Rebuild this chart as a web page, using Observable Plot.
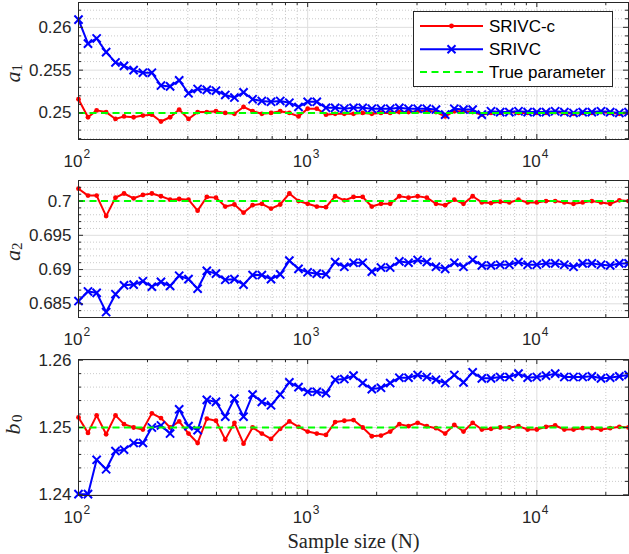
<!DOCTYPE html>
<html><head><meta charset="utf-8">
<script src="https://cdn.jsdelivr.net/npm/d3@7"></script>
<script src="https://cdn.jsdelivr.net/npm/@observablehq/plot@0.6"></script>
<style>
body{margin:0;background:#fff;}
#wrap{position:relative;width:629px;height:554px;overflow:hidden;background:#fff;}
#wrap > svg{position:absolute;left:0;}
</style></head><body><div id="wrap"></div>
<script>
// Sample sizes (N)
const N = [100,110,120,132,145,158,174,191,209,229,251,275,302,331,363,398,437,479,525,575,631,692,759,832,912,
  1000,1096,1202,1318,1445,1585,1738,1905,2089,2291,2512,2754,3020,3311,3631,3981,4365,4786,5248,5754,6310,6918,7586,8318,9120,
  10000,10965,12023,13183,14454,15849,17378,19055,20893,22909,25119];

// a1
const a1_srivcc = [0.2516,0.2495,0.2503,0.2501,0.2493,0.2496,0.2495,0.2497,0.2498,0.2490,0.2495,0.2504,0.2493,0.2501,0.2501,0.2502,0.2500,0.2499,0.2507,0.2502,0.2499,0.2500,0.2502,0.2500,0.2496,
  0.2505,0.2505,0.2498,0.2499,0.2499,0.2499,0.2500,0.2499,0.2500,0.2500,0.2501,0.2501,0.2502,0.2503,0.2501,0.2496,0.2502,0.2502,0.2501,0.2498,0.2500,0.2500,0.2501,0.2500,0.2500,
  0.2500,0.2500,0.2501,0.2500,0.2499,0.2500,0.2500,0.2501,0.2500,0.2499,0.2500];
const a1_srivc = [0.2609,0.2581,0.2587,0.2571,0.2559,0.2555,0.2550,0.2547,0.2547,0.2532,0.2531,0.2538,0.2523,0.2528,0.2527,0.2526,0.2521,0.2518,0.2524,0.2516,0.2514,0.2513,0.2514,0.2512,0.2507,
  0.2513,0.2513,0.2506,0.2506,0.2505,0.2506,0.2506,0.2505,0.2505,0.2505,0.2506,0.2505,0.2505,0.2505,0.2504,0.2498,0.2505,0.2504,0.2504,0.2498,0.2502,0.2501,0.2501,0.2502,0.2501,
  0.2501,0.2501,0.2502,0.2501,0.2500,0.2501,0.2501,0.2502,0.2501,0.2500,0.2501];

// a2
const a2_srivcc = [0.7018,0.7008,0.7008,0.6978,0.7005,0.7011,0.7004,0.7009,0.7011,0.7007,0.7002,0.7003,0.7002,0.6986,0.7006,0.7005,0.6992,0.6995,0.6983,0.6994,0.6996,0.6989,0.6995,0.7011,0.7000,
  0.6996,0.6992,0.6991,0.7007,0.7001,0.7006,0.7006,0.6992,0.6996,0.6996,0.7007,0.7005,0.7007,0.7005,0.6996,0.6994,0.7002,0.6996,0.7007,0.6998,0.6997,0.6999,0.6998,0.7002,0.6998,
  0.6998,0.7000,0.7000,0.6998,0.6996,0.6998,0.7000,0.6998,0.6996,0.7001,0.7000];
const a2_srivc = [0.6854,0.6868,0.6866,0.6838,0.6864,0.6877,0.6878,0.6883,0.6875,0.6882,0.6876,0.6891,0.6886,0.6872,0.6898,0.6894,0.6885,0.6886,0.6878,0.6892,0.6892,0.6886,0.6893,0.6913,0.6901,
  0.6896,0.6894,0.6893,0.6911,0.6904,0.6910,0.6910,0.6897,0.6903,0.6903,0.6912,0.6910,0.6914,0.6911,0.6904,0.6901,0.6910,0.6904,0.6914,0.6906,0.6906,0.6907,0.6907,0.6911,0.6907,
  0.6907,0.6909,0.6909,0.6907,0.6904,0.6909,0.6909,0.6907,0.6906,0.6909,0.6909];

// b0
const b0_srivcc = [1.2515,1.2492,1.2518,1.2490,1.2518,1.2505,1.2500,1.2497,1.2521,1.2514,1.2500,1.2509,1.2491,1.2477,1.2513,1.2510,1.2482,1.2507,1.2476,1.2500,1.2491,1.2483,1.2498,1.2509,1.2501,
  1.2494,1.2491,1.2489,1.2508,1.2510,1.2511,1.2500,1.2487,1.2488,1.2494,1.2505,1.2502,1.2507,1.2502,1.2499,1.2491,1.2504,1.2494,1.2507,1.2497,1.2498,1.2500,1.2500,1.2502,1.2497,
  1.2497,1.2501,1.2503,1.2497,1.2497,1.2499,1.2499,1.2497,1.2499,1.2501,1.2500];
const b0_srivc = [1.2401,1.2401,1.2452,1.2438,1.2465,1.2467,1.2477,1.2477,1.2500,1.2503,1.2491,1.2527,1.2502,1.2496,1.2541,1.2538,1.2516,1.2543,1.2516,1.2549,1.2538,1.2533,1.2549,1.2567,1.2560,
  1.2553,1.2553,1.2551,1.2571,1.2572,1.2577,1.2566,1.2557,1.2559,1.2566,1.2574,1.2574,1.2578,1.2575,1.2571,1.2566,1.2578,1.2567,1.2582,1.2573,1.2573,1.2575,1.2575,1.2580,1.2574,
  1.2575,1.2577,1.2580,1.2575,1.2575,1.2575,1.2576,1.2573,1.2574,1.2576,1.2578];

const trueA1 = 0.25, trueA2 = 0.7, trueB0 = 1.25;

// axis ticks
const xMajor = [100, 1000, 10000];
const xMajorExp = ["2", "3", "4"];
const xMinor = [200,300,400,500,600,700,800,900,2000,3000,4000,5000,6000,7000,8000,9000,20000];
const a1Major = [0.25, 0.255, 0.26];
const a1Minor = [0.247,0.248,0.249,0.251,0.252,0.253,0.254,0.256,0.257,0.258,0.259,0.261,0.262];
const a2Major = [0.685, 0.69, 0.695, 0.7];
const a2Minor = [0.683,0.684,0.686,0.687,0.688,0.689,0.691,0.692,0.693,0.694,0.696,0.697,0.698,0.699,0.701,0.702];
const b0Major = [1.24, 1.25, 1.26];
const b0Minor = [1.242,1.244,1.246,1.248,1.252,1.254,1.256,1.258];

const legendLabels = ["SRIVC-c", "SRIVC", "True parameter"];

const RED = "#ff0000", BLUE = "#0000ff", GREEN = "#00ff00", AX = "#262626";
const MAJ = "#dedede", MIN = "#bcbcbc";
const SANS = "'Liberation Sans', Arial, Helvetica, sans-serif";
const SERIF = "'Liberation Serif', 'Times New Roman', serif";

const wrap = document.getElementById("wrap");
const W = 629, ML = 78, MR = 1, MT = 2;

function panel({top, height, mb, yDomain, yMajor, yMinor, truth, red, blue, sym, sub, symOff, subOff, xlabel}) {
  const data = N.map((n, i) => ({N: n, c: red[i], s: blue[i]}));
  const fh = height - MT - mb, fw = W - ML - MR;
  const marks = [
    Plot.ruleX(xMinor, {stroke: MIN, strokeWidth: 0.8, strokeDasharray: "1,2"}),
    Plot.ruleY(yMinor, {stroke: MIN, strokeWidth: 0.8, strokeDasharray: "1,2"}),
    Plot.ruleX(xMajor, {stroke: MAJ, strokeWidth: 1}),
    Plot.ruleY(yMajor, {stroke: MAJ, strokeWidth: 1}),
    Plot.line(data, {x: "N", y: "c", stroke: RED, strokeWidth: 2}),
    Plot.dot(data, {x: "N", y: "c", r: 2.4, fill: RED, stroke: "none"}),
    Plot.line(data, {x: "N", y: "s", stroke: BLUE, strokeWidth: 2}),
    Plot.dot(data, {x: "N", y: "s", symbol: "times", r: 3.8, fill: "none", stroke: BLUE, strokeWidth: 2}),
    Plot.ruleY([truth], {stroke: GREEN, strokeWidth: 2, strokeDasharray: "7,4.5"}),
    Plot.frame({stroke: AX, strokeWidth: 1}),
    // inward ticks on all four sides
    Plot.ruleX(xMajor, {stroke: AX, insetTop: fh - 5}),
    Plot.ruleX(xMajor, {stroke: AX, insetBottom: fh - 5}),
    Plot.ruleX(xMinor, {stroke: AX, insetTop: fh - 3}),
    Plot.ruleX(xMinor, {stroke: AX, insetBottom: fh - 3}),
    Plot.ruleY(yMajor, {stroke: AX, insetRight: fw - 5}),
    Plot.ruleY(yMajor, {stroke: AX, insetLeft: fw - 5}),
    Plot.ruleY(yMinor, {stroke: AX, insetRight: fw - 3}),
    Plot.ruleY(yMinor, {stroke: AX, insetLeft: fw - 3}),
    // y tick labels
    Plot.text(yMajor, {y: d => d, frameAnchor: "left", text: d => String(d), textAnchor: "end", dx: -7, fontSize: 17, fill: AX}),
    // x tick labels 10^k
    Plot.text(xMajor, {x: d => d, frameAnchor: "bottom", text: () => "10", textAnchor: "end", lineAnchor: "top", dx: 4, dy: 15.5, fontSize: 17, fill: AX}),
    Plot.text(xMajor, {x: d => d, frameAnchor: "bottom", text: (d, i) => xMajorExp[i], textAnchor: "start", lineAnchor: "top", dx: 5, dy: 9.5, fontSize: 12, fill: AX}),
    // y label (italic symbol + subscript)
    Plot.text([sym], {frameAnchor: "left", text: d => d, rotate: -90, textAnchor: "start", dx: -66, dy: symOff, fontSize: 22, fontStyle: "italic", fontFamily: SERIF, fill: AX}),
    Plot.text([sub], {frameAnchor: "left", text: d => d, rotate: -90, textAnchor: "start", dx: -61, dy: subOff, fontSize: 15, fontFamily: SERIF, fill: AX})
  ];
  if (xlabel) marks.push(Plot.text([xlabel], {frameAnchor: "bottom", text: d => d, lineAnchor: "top", dy: 38, fontSize: 20.5, fontFamily: SERIF, fill: AX}));
  const svg = Plot.plot({
    width: W, height, marginLeft: ML, marginRight: MR, marginTop: MT, marginBottom: mb,
    x: {type: "log", domain: [100, 25119], axis: null},
    y: {domain: yDomain, axis: null},
    style: {fontFamily: SANS, background: "transparent", overflow: "visible"},
    marks
  });
  svg.style.top = top + "px";
  wrap.appendChild(svg);
}

panel({top: 0, height: 178, mb: 39, yDomain: [0.2469, 0.2629], yMajor: a1Major, yMinor: a1Minor, truth: trueA1,
  red: a1_srivcc, blue: a1_srivc, sym: "a", sub: "1", symOff: 11.5, subOff: 0.5});
panel({top: 178, height: 178, mb: 39, yDomain: [0.6830, 0.7030], yMajor: a2Major, yMinor: a2Minor, truth: trueA2,
  red: a2_srivcc, blue: a2_srivc, sym: "a", sub: "2", symOff: 12, subOff: 1});
panel({top: 357, height: 197, mb: 59, yDomain: [1.2399, 1.2601], yMajor: b0Major, yMinor: b0Minor, truth: trueB0,
  red: b0_srivcc, blue: b0_srivc, sym: "b", sub: "0", symOff: 7, subOff: -5.5, xlabel: "Sample size (N)"});

// legend overlay
const lg = d3.select(wrap).append("svg").attr("width", W).attr("height", 100).style("top", "0px");
lg.append("rect").attr("x", 413.5).attr("y", 11.5).attr("width", 199).attr("height", 75)
  .attr("fill", "#fff").attr("stroke", AX).attr("stroke-width", 1);
const rowsY = [26, 49.3, 72];
const cols = [RED, BLUE, GREEN];
legendLabels.forEach((lab, i) => {
  const y = rowsY[i];
  lg.append("line").attr("x1", 420).attr("x2", 483).attr("y1", y).attr("y2", y)
    .attr("stroke", cols[i]).attr("stroke-width", 2).attr("stroke-dasharray", i === 2 ? "7,4.5" : null);
  if (i === 0) lg.append("circle").attr("cx", 451.5).attr("cy", y).attr("r", 2.4).attr("fill", RED);
  if (i === 1) lg.append("path").attr("d", `M${447.5},${y-4}L${455.5},${y+4}M${447.5},${y+4}L${455.5},${y-4}`)
    .attr("stroke", BLUE).attr("stroke-width", 2);
  lg.append("text").attr("x", 489).attr("y", y).attr("dy", "0.35em").attr("font-size", 17)
    .attr("font-family", SANS).attr("fill", "#000").text(lab);
});
</script>
</body></html>
